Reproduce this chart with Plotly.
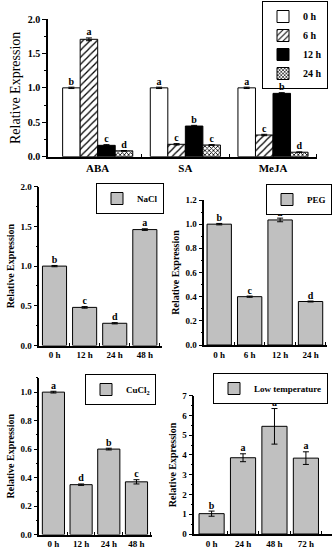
import plotly.graph_objects as go

# ---------------- data ----------------
treatments = ["ABA", "SA", "MeJA"]
series_names = ["0 h", "6 h", "12 h", "24 h"]
top_values = {
    "0 h": [1.0, 1.0, 1.0],
    "6 h": [1.705, 0.18, 0.315],
    "12 h": [0.165, 0.445, 0.92],
    "24 h": [0.085, 0.17, 0.065],
}
top_err = {
    "0 h": [0.01, 0.01, 0.01],
    "6 h": [0.02, 0.01, 0.01],
    "12 h": [0.01, 0.01, 0.01],
    "24 h": [0.005, 0.005, 0.005],
}
top_letters = {
    "0 h": ["b", "a", "a"],
    "6 h": ["a", "c", "c"],
    "12 h": ["c", "b", "b"],
    "24 h": ["d", "c", "d"],
}

nacl_times = ["0 h", "12 h", "24 h", "48 h"]
nacl_values = [1.0, 0.48, 0.28, 1.46]
nacl_err = [0.008, 0.01, 0.008, 0.01]
nacl_letters = ["b", "c", "d", "a"]

peg_times = ["0 h", "6 h", "12 h", "24 h"]
peg_values = [1.0, 0.40, 1.035, 0.36]
peg_err = [0.006, 0.005, 0.015, 0.004]
peg_letters = ["b", "c", "a", "d"]

cucl_times = ["0 h", "12 h", "24 h", "48 h"]
cucl_values = [1.0, 0.35, 0.60, 0.37]
cucl_err = [0.006, 0.005, 0.006, 0.015]
cucl_letters = ["a", "d", "b", "c"]

cold_times = ["0 h", "24 h", "48 h", "72 h"]
cold_values = [1.03, 3.86, 5.45, 3.84]
cold_err = [0.13, 0.2, 0.9, 0.32]
cold_letters = ["b", "a", "a", "a"]

# ---------------- style ----------------
W, H = 333, 550
FONT = "Liberation Serif, Times New Roman, serif"
GRAY = "#c0c0c0"
BOLD = dict(family=FONT, color="black", weight="bold")

def fx(px):
    return px / W

def fy(py):
    return 1 - py / H

fig = go.Figure()

# ---------------- top grouped panel ----------------
patterns = {
    "0 h": dict(shape=""),
    "6 h": dict(shape="/", size=5, solidity=0.25, fgcolor="black", bgcolor="white", fillmode="replace"),
    "12 h": dict(shape=""),
    "24 h": dict(shape="x", size=3, solidity=0.45, fgcolor="black", bgcolor="white", fillmode="replace"),
}
colors = {"0 h": "white", "6 h": "white", "12 h": "black", "24 h": "white"}
group_x = list(range(len(treatments)))
nser = len(series_names)
bw = 0.8 / nser
for i, s in enumerate(series_names):
    fig.add_trace(go.Bar(
        x=group_x, y=top_values[s], name=s,
        marker=dict(color=colors[s], line=dict(color="black", width=1), pattern=patterns[s]),
        error_y=dict(type="data", array=top_err[s], color="black", thickness=1, width=3),
        xaxis="x", yaxis="y", legend="legend", offsetgroup=str(i),
    ))
for i, s in enumerate(series_names):
    off = (i - (nser - 1) / 2) * bw
    fig.add_trace(go.Scatter(
        x=[g + off for g in group_x],
        y=[v + e for v, e in zip(top_values[s], top_err[s])],
        text=top_letters[s], mode="text", textposition="top center",
        textfont=dict(size=10, **BOLD), showlegend=False, xaxis="x", yaxis="y",
        cliponaxis=False,
    ))

# ---------------- single-series panels ----------------
panels = [
    ("2", nacl_times, nacl_values, nacl_err, nacl_letters, "NaCl", "legend2"),
    ("3", peg_times, peg_values, peg_err, peg_letters, "PEG", "legend3"),
    ("4", cucl_times, cucl_values, cucl_err, cucl_letters, "CuCl<sub>2</sub>", "legend4"),
    ("5", cold_times, cold_values, cold_err, cold_letters, "Low temperature", "legend5"),
]
for ax, cats, vals, errs, lets, name, leg in panels:
    xs = list(range(len(cats)))
    fig.add_trace(go.Bar(
        x=xs, y=vals, name=name,
        marker=dict(color=GRAY, line=dict(color="black", width=1)),
        error_y=dict(type="data", array=errs, color="black", thickness=1, width=3),
        xaxis="x" + ax, yaxis="y" + ax, legend=leg,
    ))
    fig.add_trace(go.Scatter(
        x=xs, y=[v + e for v, e in zip(vals, errs)], text=lets,
        mode="text", textposition="top center",
        textfont=dict(size=10, **BOLD), showlegend=False,
        xaxis="x" + ax, yaxis="y" + ax, cliponaxis=False,
    ))

# ---------------- axes ----------------
def xax(domain, rng, cats, anchor, size=9):
    n = len(cats)
    return dict(
        domain=domain, range=rng, anchor=anchor,
        tickmode="array", tickvals=list(range(n)), ticktext=cats, ticks="",
        tickfont=dict(size=size, **BOLD),
        minor=dict(tickvals=[k + 0.5 for k in range(n)], ticks="inside", ticklen=3,
                   tickwidth=1, tickcolor="black"),
        showline=True, linecolor="black", linewidth=1.5, showgrid=False, zeroline=False,
        fixedrange=True, automargin=False,
    )

def yax(domain, rng, dtick, anchor, fmt, title_size=10, title_bold=True, size=9):
    tf = dict(size=title_size, family=FONT, color="black", weight="bold" if title_bold else "normal")
    return dict(
        domain=domain, range=rng, anchor=anchor, dtick=dtick, tick0=0,
        tickformat=fmt, ticks="outside", ticklen=4, tickwidth=1, tickcolor="black",
        tickfont=dict(size=size, **BOLD),
        minor=dict(dtick=dtick / 2, tick0=0, ticks="outside", ticklen=2, tickwidth=1, tickcolor="black"),
        showline=True, linecolor="black", linewidth=1.5, showgrid=False, zeroline=False,
        title=dict(text="Relative Expression", font=tf, standoff=4),
        fixedrange=True, automargin=False,
    )

layout = dict(
    width=W, height=H, margin=dict(l=0, r=0, t=0, b=0, autoexpand=False),
    paper_bgcolor="white", plot_bgcolor="white",
    barmode="group", bargap=0.2, bargroupgap=0,
    font=dict(family=FONT, color="black"),
    showlegend=True,
)
layout["xaxis"] = xax([fx(48), fx(317)], [-0.567, 2.502], treatments, "y", size=11)
layout["yaxis"] = yax([fy(156.7), fy(19)], [0, 2.0], 0.5, "x", ".1f", title_size=14,
                      title_bold=False, size=10)

layout["xaxis2"] = xax([fx(39.3), fx(162.3)], [-0.505, 3.58], nacl_times, "y2")
layout["yaxis2"] = yax([fy(345.5), fy(186.7)], [0, 2.0], 0.5, "x2", ".1f")

layout["xaxis3"] = xax([fx(204.3), fx(327.3)], [-0.49, 3.55], peg_times, "y3")
layout["yaxis3"] = yax([fy(345), fy(200)], [0, 1.2], 0.2, "x3", ".1f")

layout["xaxis4"] = xax([fx(39.3), fx(151.7)], [-0.51, 3.55], cucl_times, "y4")
layout["yaxis4"] = yax([fy(534.5), fy(377.9)], [0, 1.1], 0.2, "x4", ".1f")

layout["xaxis5"] = xax([fx(194.3), fx(332)], [-0.55, 3.83], cold_times, "y5")
layout["yaxis5"] = yax([fy(534), fy(395.7)], [0, 7], 1, "x5", "d")

def legend(x, y, xanchor="left", size=9, bg="white"):
    return dict(
        x=x, y=y, xanchor=xanchor, yanchor="top", xref="paper", yref="paper",
        bgcolor=bg, bordercolor="black", borderwidth=1,
        font=dict(size=size, **BOLD), tracegroupgap=0, itemwidth=30,
    )

layout["legend"] = legend(fx(328), fy(1), xanchor="right", size=10, bg="rgba(255,255,255,0)")
layout["legend2"] = legend(fx(164), fy(183), xanchor="right")
layout["legend3"] = legend(fx(332), fy(184), xanchor="right")
layout["legend4"] = legend(fx(156), fy(374), xanchor="right")
layout["legend5"] = legend(fx(328), fy(373), xanchor="right")

fig.update_layout(**layout)
fig.write_html(
    "out.html",
    config={"displayModeBar": False},
    post_script="document.body.style.margin='0';document.body.style.overflow='hidden';",
)
